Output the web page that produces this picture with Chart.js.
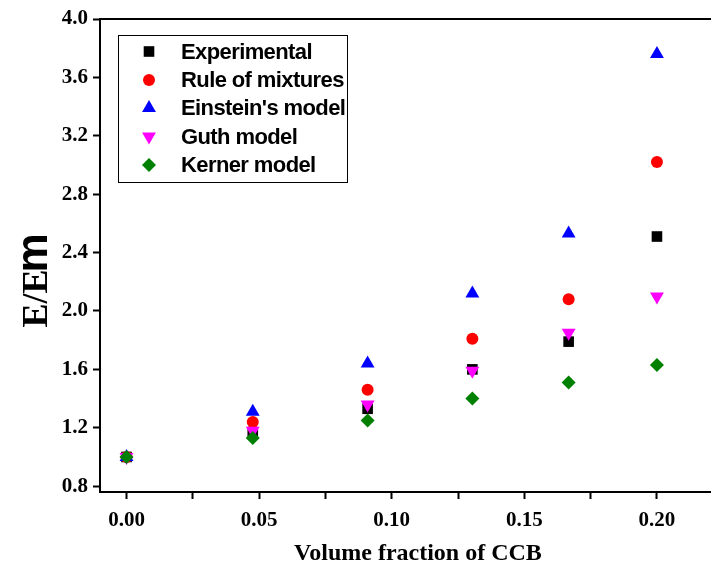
<!DOCTYPE html>
<html>
<head>
<meta charset="utf-8">
<script src="https://cdn.jsdelivr.net/npm/chart.js@4.4.1/dist/chart.umd.min.js"></script>
<style>
  html, body { margin: 0; padding: 0; background: #ffffff; overflow: hidden; }
  #wrap { width: 712px; height: 568px; position: relative; overflow: hidden; }
</style>
</head>
<body>
<div id="wrap"><canvas id="c" width="718" height="568"></canvas></div>
<script>
// ---- data ----
const xValues        = [0, 0.0476, 0.0909, 0.1304, 0.1667, 0.2];
const experimental   = [1.00, 1.17, 1.33, 1.60, 1.79, 2.51];
const ruleOfMixtures = [1.00, 1.24, 1.46, 1.81, 2.08, 3.02];
const einsteinModel  = [1.00, 1.31, 1.64, 2.12, 2.53, 3.76];
const guthModel      = [1.00, 1.18, 1.36, 1.59, 1.85, 2.10];
const kernerModel    = [1.00, 1.13, 1.25, 1.40, 1.51, 1.63];

const seriesNames = ["Experimental", "Rule of mixtures", "Einstein's model", "Guth model", "Kerner model"];
const yTickValues = [0.8, 1.2, 1.6, 2.0, 2.4, 2.8, 3.2, 3.6, 4.0];
const xMajorTicks = [0, 0.05, 0.10, 0.15, 0.20];
const xMinorTicks = [0.025, 0.075, 0.125, 0.175];
const xTitle = "Volume fraction of CCB";
const yTitleMain = "E/E";
const yTitleSub = "m";

function pts(ys) { return xValues.map((x, i) => ({ x: x, y: ys[i] })); }

const styles = [
  { color: '#000000', pointStyle: 'rect',     radius: 7.5, rotation: 0,   order: 5 },
  { color: '#ff0000', pointStyle: 'circle',   radius: 6,   rotation: 0,   order: 4 },
  { color: '#0000ff', pointStyle: 'triangle', radius: 8,   rotation: 0,   order: 3 },
  { color: '#ff00ff', pointStyle: 'triangle', radius: 8,   rotation: 180, order: 2 },
  { color: '#008000', pointStyle: 'rectRot',  radius: 7,   rotation: 0,   order: 1 }
];
const seriesData = [experimental, ruleOfMixtures, einsteinModel, guthModel, kernerModel];

const datasets = seriesNames.map((name, i) => ({
  label: name,
  data: pts(seriesData[i]),
  showLine: false,
  pointStyle: styles[i].pointStyle,
  pointRadius: styles[i].radius,
  pointHoverRadius: styles[i].radius,
  pointRotation: styles[i].rotation,
  pointBackgroundColor: styles[i].color,
  pointBorderColor: styles[i].color,
  pointBorderWidth: 0,
  order: styles[i].order
}));

const decor = {
  id: 'decor',
  afterDraw(chart) {
    const ctx = chart.ctx;
    const ca = chart.chartArea;
    ctx.save();
    // top frame line
    ctx.strokeStyle = '#000';
    ctx.lineWidth = 2;
    ctx.beginPath();
    ctx.moveTo(ca.left - 1, ca.top);
    ctx.lineTo(ca.right + 1, ca.top);
    ctx.stroke();

    // x title
    ctx.fillStyle = '#000';
    ctx.font = 'bold 24px "Liberation Serif"';
    ctx.textAlign = 'center';
    ctx.textBaseline = 'alphabetic';
    ctx.fillText(xTitle, 418, 560);

    // y title (rotated)
    ctx.save();
    ctx.translate(47, 279);
    ctx.rotate(-Math.PI / 2);
    ctx.textAlign = 'left';
    const f1 = 'bold 36px "Liberation Serif"';
    const f2 = 'bold 44px "Liberation Sans"';
    ctx.font = f1; const w1 = ctx.measureText(yTitleMain).width;
    ctx.font = f2; const w2 = ctx.measureText(yTitleSub).width;
    const start = -(w1 + w2) / 2;
    ctx.font = f1; ctx.fillText(yTitleMain, start, 0);
    ctx.font = f2; ctx.fillText(yTitleSub, start + w1 - 3, 0);
    ctx.restore();

    // legend
    const bx = 118, by = 35, bw = 229, bh = 147;
    ctx.fillStyle = '#fff';
    ctx.fillRect(bx, by, bw, bh);
    ctx.strokeStyle = '#000';
    ctx.lineWidth = 1;
    ctx.strokeRect(bx + 0.5, by + 0.5, bw, bh);
    const rowY = [51.5, 80, 108, 136.5, 165];
    ctx.font = 'bold 22px "Liberation Sans"';
    try { ctx.letterSpacing = '-0.6px'; } catch (e) {}
    ctx.textAlign = 'left';
    ctx.textBaseline = 'middle';
    for (let i = 0; i < seriesNames.length; i++) {
      const s = styles[i];
      ctx.fillStyle = s.color;
      ctx.strokeStyle = s.color;
      Chart.helpers.drawPoint(ctx, {
        pointStyle: s.pointStyle,
        radius: s.radius,
        rotation: s.rotation,
        borderWidth: 0
      }, 149, rowY[i]);
      ctx.fillStyle = '#000';
      ctx.fillText(seriesNames[i], 181, rowY[i] + 1);
    }
    try { ctx.letterSpacing = '0px'; } catch (e) {}
    ctx.restore();
  }
};

new Chart(document.getElementById('c'), {
  type: 'scatter',
  data: { datasets },
  options: {
    responsive: false,
    animation: false,
    devicePixelRatio: 1,
    layout: { padding: { top: 19, right: 1, left: 0, bottom: 0 } },
    plugins: { legend: { display: false }, tooltip: { enabled: false } },
    scales: {
      x: {
        type: 'linear',
        min: -0.01,
        max: 0.22,
        afterBuildTicks(scale) {
          scale.ticks = xMajorTicks.concat(xMinorTicks).sort((a, b) => a - b).map(v => ({ value: v }));
        },
        afterFit(scale) { scale.height = 76; },
        ticks: {
          autoSkip: false,
          maxRotation: 0,
          padding: 9,
          color: '#000',
          font: { family: '"Liberation Serif"', size: 21, weight: 'bold' },
          callback(v) {
            return xMajorTicks.some(m => Math.abs(m - v) < 1e-9) ? v.toFixed(2) : '';
          }
        },
        grid: { drawOnChartArea: false, drawTicks: true, tickLength: 7, tickWidth: 2, color: '#000' },
        border: { display: true, color: '#000', width: 2 }
      },
      y: {
        type: 'linear',
        min: 0.76,
        max: 4.0,
        afterBuildTicks(scale) {
          scale.ticks = yTickValues.map(v => ({ value: v }));
        },
        afterFit(scale) { scale.width = 100; },
        ticks: {
          autoSkip: false,
          padding: 5,
          color: '#000',
          font: { family: '"Liberation Serif"', size: 21, weight: 'bold' },
          callback(v) { return v.toFixed(1); }
        },
        grid: { drawOnChartArea: false, drawTicks: true, tickLength: 7, tickWidth: 2, color: '#000' },
        border: { display: true, color: '#000', width: 2 }
      }
    }
  },
  plugins: [decor]
});
</script>
</body>
</html>
